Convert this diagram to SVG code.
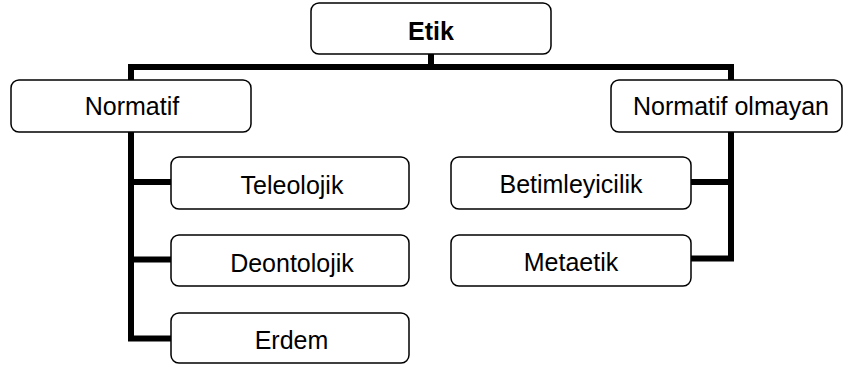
<svg xmlns="http://www.w3.org/2000/svg" width="844" height="368" viewBox="0 0 844 368">
<style>
.box{fill:#fff;stroke:#000;stroke-width:1.5}
.t{font-family:"Liberation Sans",Arial,sans-serif;font-size:25px;fill:#000;text-anchor:middle}
.b{font-weight:bold}
.c{fill:none;stroke:#000;stroke-width:6;stroke-linejoin:miter}
</style>
<rect width="844" height="368" fill="#fff"/>
<g id="connectors">
<path class="c" d="M171,338.5 H131 V67 H731 V258.5 H691"/>
<path class="c" d="M431,54 V67"/>
<path class="c" d="M131,182 H171"/>
<path class="c" d="M131,259.5 H171"/>
<path class="c" d="M691,182 H731"/>
</g>
<g id="etik"><rect class="box" x="311" y="3" width="240" height="51" rx="8"/><text class="t b" x="431" y="40">Etik</text></g>
<g id="normatif"><rect class="box" x="11" y="80" width="240" height="52" rx="8"/><text class="t" x="132" y="115">Normatif</text></g>
<g id="normatif-olmayan"><rect class="box" x="611" y="80" width="231" height="52" rx="8"/><text class="t" x="731" y="115">Normatif olmayan</text></g>
<g id="teleolojik"><rect class="box" x="171" y="157" width="238" height="52" rx="8"/><text class="t" x="292" y="194">Teleolojik</text></g>
<g id="deontolojik"><rect class="box" x="171" y="235" width="238" height="51" rx="8"/><text class="t" x="292" y="271.5">Deontolojik</text></g>
<g id="erdem"><rect class="box" x="171" y="313" width="238" height="50" rx="8"/><text class="t" x="291.5" y="349">Erdem</text></g>
<g id="betimleyicilik"><rect class="box" x="451" y="157" width="240" height="52" rx="8"/><text class="t" x="571" y="193">Betimleyicilik</text></g>
<g id="metaetik"><rect class="box" x="451" y="235" width="240" height="51" rx="8"/><text class="t" x="571" y="271">Metaetik</text></g>
</svg>
